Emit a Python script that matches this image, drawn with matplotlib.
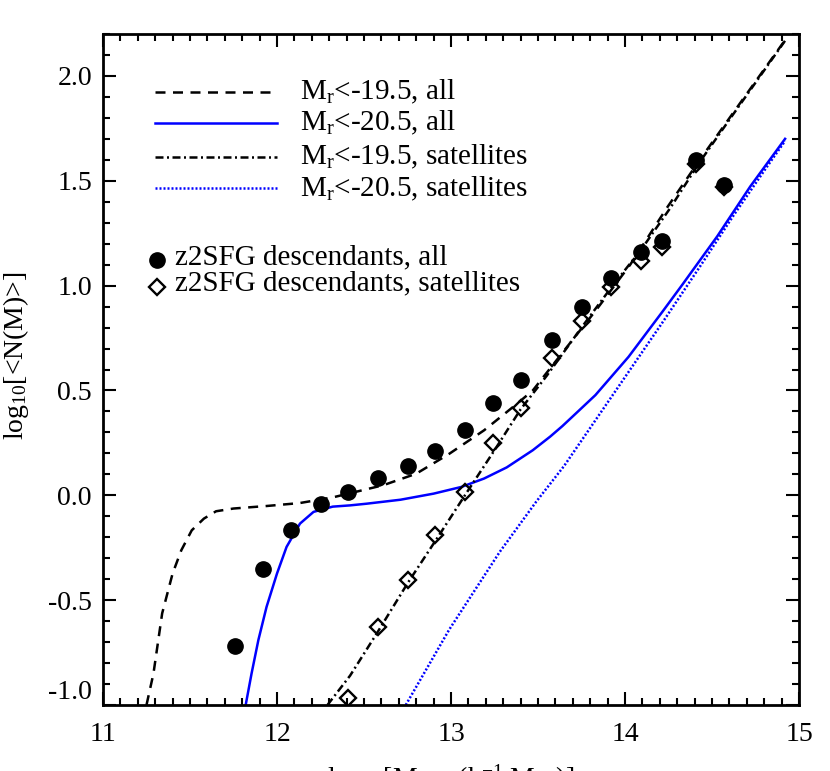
import numpy as np
import matplotlib
matplotlib.use("Agg")
import matplotlib.pyplot as plt

plt.rcParams['font.family'] = ['Liberation Serif', 'DejaVu Serif']
plt.rcParams['mathtext.fontset'] = 'custom'
plt.rcParams['mathtext.rm'] = 'Liberation Serif'
plt.rcParams['mathtext.it'] = 'Liberation Serif:italic'

# HOD model curves
x_all195 = [11.25, 11.29, 11.34, 11.40, 11.45, 11.51, 11.58, 11.65, 11.75, 11.94,
            12.13, 12.32, 12.61, 12.80, 12.99, 13.19, 13.38, 13.47, 13.65, 13.84,
            14.03, 14.24, 14.43, 14.62, 14.92]
y_all195 = [-1.0, -0.85, -0.563, -0.373, -0.262, -0.167, -0.111, -0.076, -0.063, -0.051,
            -0.037, -0.01, 0.048, 0.103, 0.198, 0.31, 0.437, 0.50, 0.69, 0.89,
            1.10, 1.37, 1.60, 1.822, 2.171]

x_all205 = [11.82, 11.854, 11.893, 11.94, 12.0, 12.055, 12.132, 12.21, 12.32, 12.42,
            12.515, 12.71, 12.90, 13.06, 13.19, 13.32, 13.47, 13.57, 13.64, 13.73,
            13.83, 14.02, 14.22, 14.33, 14.53, 14.72, 14.92]
y_all205 = [-1.0, -0.849, -0.69, -0.532, -0.373, -0.246, -0.135, -0.079, -0.054, -0.048,
            -0.04, -0.021, 0.008, 0.04, 0.08, 0.133, 0.215, 0.28, 0.33, 0.40,
            0.478, 0.66, 0.881, 1.005, 1.235, 1.473, 1.70]

x_sat195 = [12.29, 12.42, 12.58, 12.75, 12.92, 13.08, 13.25, 13.40, 13.55, 13.75,
            13.92, 14.10, 14.26, 14.43, 14.62, 14.92]
y_sat195 = [-1.0, -0.86, -0.65, -0.42, -0.205, 0.0, 0.215, 0.41, 0.57, 0.80,
            0.99, 1.18, 1.37, 1.59, 1.815, 2.168]

x_sat205 = [12.74, 12.99, 13.28, 13.49, 13.65, 13.84, 14.03, 14.22, 14.43, 14.62,
            14.81, 14.92]
y_sat205 = [-1.0, -0.64, -0.27, -0.03, 0.14, 0.37, 0.60, 0.83, 1.09, 1.33,
            1.56, 1.69]

# z2SFG descendants
x_desc_all = [11.76, 11.92, 12.08, 12.25, 12.41, 12.58, 12.75, 12.91, 13.08, 13.24,
              13.40, 13.58, 13.75, 13.92, 14.09, 14.21, 14.41, 14.57]
y_desc_all = [-0.72, -0.35, -0.165, -0.043, 0.018, 0.083, 0.14, 0.212, 0.31, 0.441,
              0.55, 0.742, 0.896, 1.035, 1.159, 1.215, 1.60, 1.48]
x_desc_sat = [12.41, 12.58, 12.75, 12.91, 13.08, 13.24, 13.40, 13.58, 13.75, 13.92,
              14.09, 14.21, 14.41, 14.57]
y_desc_sat = [-0.965, -0.627, -0.402, -0.188, 0.016, 0.249, 0.415, 0.653, 0.833, 0.992,
              1.119, 1.183, 1.58, 1.47]

line_labels = [r'M$_{\rm r}$<-19.5, all', r'M$_{\rm r}$<-20.5, all',
               r'M$_{\rm r}$<-19.5, satellites', r'M$_{\rm r}$<-20.5, satellites']
point_labels = ['z2SFG descendants, all', 'z2SFG descendants, satellites']

xticks = [11, 12, 13, 14, 15]
yticks = [-1.0, -0.5, 0.0, 0.5, 1.0, 1.5, 2.0]
ytick_labels = ['-1.0', '-0.5', '0.0', '0.5', '1.0', '1.5', '2.0']

lw = 1.8
styles = [dict(color='black', lw=lw, dashes=(4.0, 3.0)),
          dict(color='blue', lw=lw),
          dict(color='black', lw=lw, dashes=(3.2, 1.4, 0.8, 1.4)),
          dict(color='blue', lw=lw, dashes=(0.8, 0.8))]

fig = plt.figure(figsize=(8.3, 7.71), dpi=100)
ax = fig.add_axes([103/830, 1-705/771, 696/830, 671/771])

curves = [(x_all195, y_all195), (x_all205, y_all205),
          (x_sat195, y_sat195), (x_sat205, y_sat205)]
for (xs, ys), st in zip(curves, styles):
    ax.plot(xs, ys, **st)

ax.plot(x_desc_sat, y_desc_sat, 'D', ms=8, mfc='none', mec='black', mew=1.7, zorder=3)
ax.plot(x_desc_all, y_desc_all, 'o', ms=11, color='black', zorder=4)

# legend drawn by hand, IDL style
tr = ax.transAxes
leg_fs = 21
leg_y = [0.914, 0.868, 0.817, 0.770]
for yy, st, lab in zip(leg_y, styles, line_labels):
    ax.plot([0.075, 0.25], [yy, yy], transform=tr, **st)
    ax.text(0.283, yy - 0.012, lab, transform=tr, fontsize=leg_fs, va='baseline')
ax.plot([0.0776], [0.663], 'o', ms=11, color='black', transform=tr)
ax.text(0.103, 0.656, point_labels[0], transform=tr, fontsize=leg_fs, va='baseline')
ax.plot([0.0776], [0.623], 'D', ms=8, mfc='none', mec='black', mew=1.7, transform=tr)
ax.text(0.103, 0.618, point_labels[1], transform=tr, fontsize=leg_fs, va='baseline')

ax.set_xlim(11, 15)
ax.set_ylim(-1.0, 2.2)
ax.set_xticks(xticks)
ax.set_xticklabels([str(t) for t in xticks])
ax.set_yticks(yticks)
ax.set_yticklabels(ytick_labels)
ax.set_xticks(np.arange(11, 15.001, 0.1), minor=True)
ax.set_yticks(np.arange(-1.0, 2.2001, 0.1), minor=True)
ax.get_yticklabels()[0].set_va('bottom')

ax.tick_params(which='both', direction='in', top=True, right=True, width=1.5, labelsize=20)
ax.tick_params(which='major', length=9.5)
ax.tick_params(which='minor', length=5)
ax.tick_params(axis='x', pad=12)
ax.tick_params(axis='y', pad=8)
for sp in ax.spines.values():
    sp.set_linewidth(2)

ax.set_ylabel(r'log$_{10}$[<N(M)>]', fontsize=20)
ax.yaxis.set_label_coords(-0.104, 0.52)
ax.set_xlabel(r'log$_{10}$[M$_{\rm halo}$ (h$^{-1}$ M$_\odot$)]', fontsize=20, va='top')
ax.xaxis.set_label_coords(0.5, -0.085)

fig.savefig('out.png', dpi=100)
